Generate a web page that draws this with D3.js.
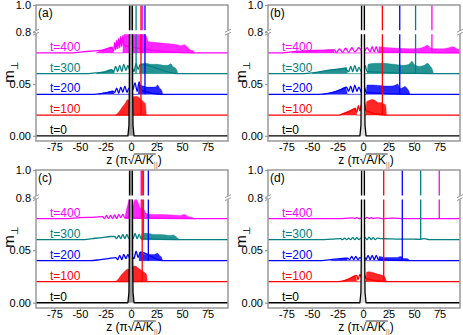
<!DOCTYPE html>
<html>
<head>
<meta charset="utf-8">
<script src="https://cdn.jsdelivr.net/npm/d3@7"></script>
<style>
body { margin: 0; background: #fff; }
text { font-family: "Liberation Sans", Arial, sans-serif; }
</style>
</head>
<body>
<div class="chart"></div>
<script>
// stacked m_perp(z) profiles, one offset per time
const times = [0, 100, 200, 300, 400];
const offsets = [0, 0.02, 0.04, 0.06, 0.08];
const colors = ["#000000", "#ff0000", "#0000ff", "#008080", "#ff00ff"];
const xTicks = [-75, -50, -25, 0, 25, 50, 75];
const yTicksLow = [0, 0.05];
const yTicksHigh = [0.8, 1.0];
const xDomain = [-93, 95];
const lowDomain = [-0.005, 0.1];
const highDomain = [0.8, 1.0];

// t=0 wall core, same in all panels
const peak0 = [[-3,0],[-2,0.01],[-1.6,0.05],[-1.5,0.1],[-1.4,1.1],[1.4,1.1],[1.5,0.1],[1.6,0.05],[2,0.01],[3,0]];

// z of the vertical wall peaks for t=100,200,300,400
const spikesA = [9.8, 13.7, 5, 11];
const spikesB = [19, 36, 51.5, 67.5];
const spikesC = [11, 17, 12.3, 10];
const spikesD = [20.3, 38.5, 56.5, 74.7];

// sparse wiggles [z, m] per time (index 0 = t=0 unused)
const wigsA = [[],
  [],
  [[-36,0],[-28,0.001],[-22,0.002],[-18,0.003],[-16,0.002],[-14,0.006],[-12,0.001],[-10,0.007],[-8,0.002],[-6,0.008],[-4,0.002],[-2,0.006],[0,0.002],[2,0.005],[4,0.011],[6,0.003],[8,0.012],[10,0.004],[31,0]],
  [[-42,0],[-32,0.001],[-24,0.002],[-19,0.0035],[-17,0.002],[-15,0.007],[-13,0.002],[-11,0.008],[-9,0.002],[-7,0.009],[-5,0.003],[-3,0.008],[-1,0.003],[1,0.006],[3,0.002],[5,0.01],[7,0.004],[9,0.009],[46,0]],
  [[-60,0],[-48,0.001],[-36,0.002],[-26,0.003],[-19,0.005],[-17,0.002],[-16,0.01],[-15,0.003],[-14,0.012],[-13,0.004],[-12,0.014],[-11,0.005],[-10,0.016],[-9,0.006],[-8,0.017],[-7,0.007],[62,0]]
];
const wigsB = [[],
  [[-24,0],[-18,0.002],[-12,0.004],[-8,0.006],[-6,0.003],[-4.5,0.009],[-3,0.004],[-1.5,0.01],[0,0.003],[1.5,0.012],[3,0.004],[23,0]],
  [[-44,0],[-34,0.001],[-26,0.003],[-20,0.005],[-16,0.007],[-14,0.003],[-12,0.008],[-10,0.002],[-8,0.009],[-6,0.003],[-4,0.007],[-1,0.001],[1,0.008],[3,0.002],[46,0]],
  [[-60,0],[-48,0.001],[-36,0.003],[-26,0.004],[-18,0.005],[-14,0.002],[-12,0.007],[-10,0.002],[-8,0.008],[-6,0.002],[-4,0.006],[-1,0.001],[2,0.008],[4,0.002],[69,0]],
  [[-82,0],[-70,0.001],[-56,0.002],[-40,0.0025],[-28,0.003],[-26,0.0005],[-23,0.004],[-20,0.0005],[-17,0.0045],[-14,0.0005],[-11,0.005],[-8,0.001],[-4,0.005],[0,0],[4,0.005],[7,0.001],[9,0.006],[11,0.001],[13,0.006],[15,0.001]]
];
const wigsC = [[],
  [],
  [[-40,0],[-30,0.001],[-22,0.002],[-15,0.003],[-13,0.001],[-11,0.005],[-9,0.001],[-7,0.006],[-5,0.002],[-3,0.006],[-1,0.002],[1,0.004],[3,0.002],[5,0.009],[7,0.003],[9,0.008],[31,0]],
  [[-48,0],[-38,0.001],[-28,0.002],[-20,0.003],[-16,0.003],[-14,0.001],[-12,0.004],[-10,0.001],[-8,0.005],[-6,0.001],[-4,0.005],[-2,0.001],[0,0.004],[2,0.001],[4,0.006],[6,0.001],[8,0.005],[10,0.001],[47,0]],
  [[-65,0],[-50,0.001],[-35,0.0015],[-28,0.002],[-26,0],[-24,0.003],[-22,0],[-20,0.003],[-18,0],[-16,0.0035],[-14,0],[-12,0.004],[-10,0.001],[-8,0.004],[-6,0.001],[62,0]]
];
const wigsD = [[],
  [[-24,0],[-18,0.001],[-13,0.003],[-9,0.005],[-6,0.006],[-5,0.002],[-3,0.007],[-1,0.003],[1,0.008],[3,0.003],[23,0]],
  [[-44,0],[-32,0.001],[-22,0.002],[-15,0.0025],[-13,0.001],[-11,0.004],[-9,0.001],[-7,0.004],[-5,0.001],[-3,0.003],[-1,0.002],[1,0.004],[3,0.001],[5,0.005],[7,0.001],[9,0.005],[11,0.001],[13,0.005],[15,0.001],[46,0]],
  [[-45,0],[-30,0.0005],[-22,0.001],[-20,0],[-18,0.0015],[-16,0],[-14,0.0015],[-12,0],[-10,0.002],[-8,0],[-6,0.002],[-4,0],[-2,0.0015],[0,0],[2,0.002],[4,0],[6,0.0025],[8,0],[10,0.002],[12,0],[14,0.0015],[18,0.001],[25,0.0008],[35,0.0005],[50,0.0005],[56,0.0003],[60,0.001],[65,0]],
  [[-20,0],[-10,0.0008],[-8,0],[-6,0.001],[-4,0],[0,0.001],[2,0],[4,0.0012],[6,0],[8,0.001],[10,0],[14,0.0008],[18,0],[30,0.0005],[40,0]]
];

// dense oscillation envelopes [z, low, high]
const bandsA = [[],
  [[-15,0,0],[-12,0,0.003],[-9,0,0.007],[-6,0,0.011],[-3,0,0.015],[-1,0,0.013],[1,0,0.016],[3,0,0.018],[6,0,0.018],[9,0,0.016],[12,0,0.013],[14,0,0.011],[15,0,0]],
  [[-32,0,0],[-24,0,0.002],[-18,0,0.003],[-16,0,0],[7,0,0],[8,0,0.009],[12,0,0.008],[16,0,0.007],[20,0,0.007],[24,0,0.007],[26,0,0.009],[28,0,0.006],[30,0,0.004],[31,0,0]],
  [[-34,0,0],[-26,0,0.002],[-20,0,0.004],[-17,0,0.003],[-16,0,0],[8,0,0],[9,0,0.009],[14,0,0.01],[20,0,0.009],[26,0,0.009],[32,0,0.008],[36,0,0.008],[39,0,0.0095],[41,0,0.007],[44,0,0.005],[46,0,0]],
  [[-34,0,0],[-28,0,0.003],[-22,0,0.005],[-18,0,0.006],[-17,0,0],[-8,0,0],[-7,0,0.017],[-5,0,0.02],[-3,0,0.022],[0,0,0.025],[3,0,0.025],[6,0,0.025],[9,0,0.022],[12,0,0.02],[15,0,0.016],[17,0,0.011],[25,0,0.01],[35,0,0.009],[45,0,0.008],[49,0,0.007],[52,0,0.008],[55,0,0.006],[58,0,0.003],[61,0,0.002],[62,0,0]]
];
const bandsB = [[],
  [[-22,0,0],[-16,0,0.003],[-10,0,0.006],[-7,0,0.007],[-6,0,0],[3,0,0],[3.5,0,0.013],[6,0,0.014],[9,0,0.015],[12,0,0.014],[15,0,0.012],[18,0,0.012],[20,0,0.011],[22,0,0.01],[23,0,0]],
  [[-40,0,0],[-30,0,0.002],[-22,0,0.005],[-17,0,0.007],[-15,0,0],[3,0,0],[4,0,0.009],[10,0,0.009],[16,0,0.0085],[22,0,0.008],[28,0,0.008],[32,0,0.009],[34,0,0.01],[36,0,0.006],[38,0,0.006],[41,0,0.0075],[43,0,0.006],[45,0,0.003],[46,0,0]],
  [[-50,0,0],[-40,0,0.002],[-30,0,0.004],[-22,0,0.005],[-16,0,0.006],[-15,0,0],[4,0,0],[5,0,0.009],[12,0,0.01],[20,0,0.01],[30,0,0.009],[40,0,0.008],[45,0,0.009],[48,0,0.012],[50,0,0.009],[55,0,0.007],[60,0,0.008],[63,0,0.01],[66,0,0.007],[68,0,0.004],[69,0,0]],
  [[-70,0,0],[-55,0,0.002],[-40,0,0.0025],[-29,0,0.003],[-28,0,0],[15,0,0],[16,0,0.006],[25,0,0.005],[35,0,0.0045],[45,0,0.004],[55,0,0.0045],[60,0,0.006],[63,0,0.0075],[66,0,0.005],[70,0,0.004],[78,0,0.004],[84,0,0.005],[88,0,0.006],[92,0,0.004],[95,0,0.003]]
];
const bandsC = [[],
  [[-15,0,0],[-12,0,0.003],[-9,0,0.007],[-6,0,0.01],[-3,0,0.012],[-1,0,0.011],[1,0,0.014],[4,0,0.015],[7,0,0.013],[10,0,0.011],[13,0,0.009],[15,0,0.007],[16,0,0]],
  [[8,0,0],[9,0,0.007],[14,0,0.006],[19,0,0.006],[23,0,0.006],[26,0,0.007],[28,0,0.005],[30,0,0.003],[31,0,0]],
  [[10,0,0],[11,0,0.006],[16,0,0.006],[22,0,0.005],[28,0,0.005],[34,0,0.0045],[38,0,0.004],[41,0,0.0045],[44,0,0.003],[47,0,0]],
  [[-6,0,0],[-5,0,0.006],[-3,0,0.014],[-1,0,0.02],[1,0,0.018],[2,0,0.011],[3,0,0.016],[5,0,0.019],[7,0,0.015],[9,0,0.01],[11,0,0.01],[13,0,0.008],[15,0,0.005],[20,0,0.004],[30,0,0.004],[40,0,0.0035],[48,0,0.003],[52,0,0.004],[56,0,0.002],[60,0,0.001],[62,0,0]]
];
const bandsD = [[],
  [[-22,0,0],[-16,0,0.002],[-11,0,0.004],[-7,0,0.006],[-6,0,0],[3,0,0],[3.5,0,0.009],[6,0,0.0095],[9,0,0.009],[12,0,0.008],[15,0,0.007],[18,0,0.0065],[21,0,0.005],[23,0,0]],
  [[-32,0,0],[-22,0,0.0015],[-16,0,0.0025],[-15,0,0],[15,0,0],[16,0,0.004],[22,0,0.003],[28,0,0.003],[33,0,0.003],[37,0,0.004],[40,0,0.002],[43,0,0.002],[46,0,0]],
  [],
  []
];

const panels = [
  {name: "(a)", left: 36, top: 5, h: 136, spikes: spikesA, wigs: wigsA, bands: bandsA, core: "#999"},
  {name: "(b)", left: 268, top: 5, h: 136, spikes: spikesB, wigs: wigsB, bands: bandsB, core: "#ddd"},
  {name: "(c)", left: 36, top: 170, h: 138, spikes: spikesC, wigs: wigsC, bands: bandsC, core: "#999"},
  {name: "(d)", left: 268, top: 170, h: 138, spikes: spikesD, wigs: wigsD, bands: bandsD, core: "#ddd"}
];

const width = 463, height = 335, pw = 192;
const frameColor = "#999";
const font = "'Liberation Sans', Arial, sans-serif";

const svg = d3.select(".chart").append("svg")
    .attr("width", width)
    .attr("height", height);

panels.forEach((p, pi) => {
    const bottom = p.top + p.h,
          breakY = p.top + 0.2 * p.h;

    const x = d3.scaleLinear().domain(xDomain).range([p.left, p.left + pw]);
    const yLow = d3.scaleLinear().domain(lowDomain).range([bottom, breakY]);
    const yHigh = d3.scaleLinear().domain(highDomain).range([breakY, p.top]);

    const segs = [
        {y: yLow, y0: breakY + 2, y1: bottom},
        {y: yHigh, y0: p.top, y1: breakY - 2}
    ];

    segs.forEach((s, si) => {
        const id = "clip" + pi + si;
        svg.append("clipPath").attr("id", id)
            .append("rect")
            .attr("x", p.left).attr("y", s.y0)
            .attr("width", pw).attr("height", s.y1 - s.y0);

        const g = svg.append("g").attr("clip-path", "url(#" + id + ")");

        for (let i = times.length - 1; i >= 0; i--) {
            const off = offsets[i], c = colors[i];
            const line = d3.line().x(d => x(d[0])).y(d => s.y(off + d[1]));

            if (i === 0) {
                const core = d3.area().x(d => x(d[0])).y0(s.y(off)).y1(d => s.y(off + d[1]));
                g.append("path").attr("d", core(peak0)).attr("fill", p.core);
            }

            const band = p.bands[i];
            if (band && band.length) {
                const area = d3.area()
                    .curve(d3.curveMonotoneX)
                    .x(d => x(d[0]))
                    .y0(d => s.y(off + d[1]))
                    .y1(d => s.y(off + d[2]));
                g.append("path").attr("d", area(band))
                    .attr("fill", c).attr("fill-opacity", 0.85)
                    .attr("stroke", c).attr("stroke-width", 0.4);
            }

            const pts = [[xDomain[0], 0]].concat(i === 0 ? peak0 : p.wigs[i], [[xDomain[1], 0]]);
            g.append("path").attr("d", line.curve(i === 0 ? d3.curveLinear : d3.curveMonotoneX)(pts))
                .attr("fill", "none").attr("stroke", c)
                .attr("stroke-width", 1.3).attr("stroke-linejoin", "round");

            if (i > 0) {
                const z = p.spikes[i - 1];
                g.append("path").attr("d", line.curve(d3.curveLinear)([[z, 0], [z, 1.1]]))
                    .attr("fill", "none").attr("stroke", c).attr("stroke-width", 1.3);
            }
        }
    });

    // frame
    svg.append("rect")
        .attr("x", p.left).attr("y", p.top)
        .attr("width", pw).attr("height", p.h)
        .attr("fill", "none").attr("stroke", frameColor).attr("stroke-width", 1.5);

    // axis break marks
    [p.left, p.left + pw].forEach(xs => {
        svg.append("rect").attr("x", xs - 2).attr("y", breakY - 1.5)
            .attr("width", 4).attr("height", 3).attr("fill", "#fff");
        [-1.5, 1.5].forEach(dy => {
            svg.append("line")
                .attr("x1", xs - 3).attr("y1", breakY + dy + 1.5)
                .attr("x2", xs + 3).attr("y2", breakY + dy - 1.5)
                .attr("stroke", frameColor).attr("stroke-width", 1);
        });
    });

    // x axis
    const xAxis = svg.append("g")
        .attr("transform", "translate(0," + bottom + ")")
        .call(d3.axisBottom(x).tickValues(xTicks).tickSize(3).tickFormat(d => String(d)));
    xAxis.select(".domain").remove();
    xAxis.selectAll(".tick line").attr("stroke", frameColor).attr("stroke-width", 1.2);
    xAxis.selectAll(".tick text").attr("y", 2).attr("font-size", 11)
        .attr("font-family", font).attr("fill", "#000");

    // y axes (two segments)
    [[yLow, yTicksLow, ".2f"], [yHigh, yTicksHigh, ".1f"]].forEach(([sc, tv, f]) => {
        const ya = svg.append("g")
            .attr("transform", "translate(" + p.left + ",0)")
            .call(d3.axisLeft(sc).tickValues(tv).tickSize(3).tickPadding(2).tickFormat(d3.format(f)));
        ya.select(".domain").remove();
        ya.selectAll(".tick line").attr("stroke", frameColor).attr("stroke-width", 1.2);
        ya.selectAll(".tick text").attr("font-size", 11)
            .attr("font-family", font).attr("fill", "#000");
    });

    // time labels
    times.forEach((t, i) => {
        svg.append("text")
            .attr("x", p.left + 14)
            .attr("y", yLow(offsets[i]) - 2)
            .attr("font-size", 12)
            .attr("fill", colors[i])
            .text("t=" + t);
    });

    // panel letter
    svg.append("text")
        .attr("x", p.left + 2).attr("y", p.top + 12)
        .attr("font-size", 12)
        .text(p.name);

    // x title with radical bar
    const tx = p.left + 98, ty = bottom + 23;
    const xl = svg.append("text")
        .attr("x", tx).attr("y", ty)
        .attr("text-anchor", "middle")
        .attr("font-size", 12);
    xl.append("tspan").text("z (\u03c0\u221a");
    xl.append("tspan").text("A/K");
    xl.append("tspan").attr("font-size", 8).attr("dy", 3).attr("fill", "#777").text("||");
    xl.append("tspan").attr("dy", -3).text(")");
    const n = xl.node();
    const s0 = n.getStartPositionOfChar(5), e0 = n.getEndPositionOfChar(8);
    svg.append("line")
        .attr("x1", s0.x - 0.5).attr("x2", e0.x)
        .attr("y1", ty - 10).attr("y2", ty - 10)
        .attr("stroke", "#000").attr("stroke-width", 0.8);

    // y title
    const yl = svg.append("text")
        .attr("transform", "translate(" + (p.left - 22) + "," + (p.top + 67) + ") rotate(-90)")
        .attr("text-anchor", "middle");
    yl.append("tspan").attr("font-size", 15).text("m");
    yl.append("tspan").attr("font-size", 10).attr("dy", 4).text("\u22a5");
});
</script>
</body>
</html>
